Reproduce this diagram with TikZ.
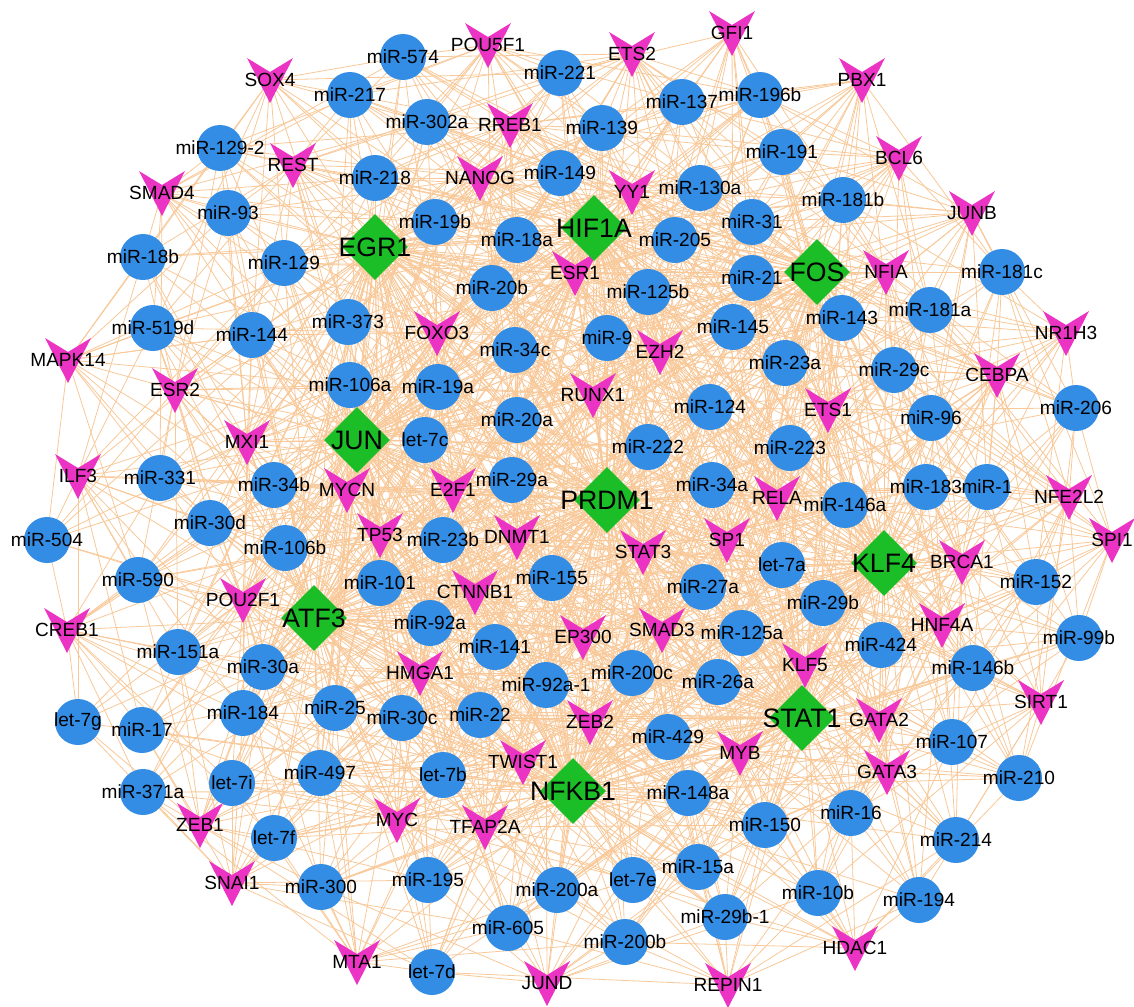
\documentclass[tikz,border=0pt]{standalone}
\usepackage{fontspec}
\setmainfont{Liberation Sans}
\usepackage{xcolor}
\usepackage{tikz}
\usetikzlibrary{shapes.geometric,backgrounds}
\definecolor{mirblue}{RGB}{51,141,229}
\definecolor{tfpink}{RGB}{236,52,196}
\definecolor{hubgreen}{RGB}{27,190,38}
\definecolor{edgepeach}{RGB}{248,200,152}

\def\hubs{EGR1/375/247, HIF1A/594/228, FOS/817/272, JUN/357/440, PRDM1/607/500,
  KLF4/884/563, ATF3/314/618, STAT1/802/718, NFKB1/573/791}
\def\tfs{SOX4/270/80, REST/293/165, SMAD4/162/193, POU5F1/488/45, RREB1/510/125,
  NANOG/480/178, FOXO3/437/333, ESR1/575/273, ETS2/632/54, GFI1/732/33,
  YY1/632/192, PBX1/862/80, BCL6/899/158, JUNB/972/213, NFIA/886/272,
  NR1H3/1066/333, MAPK14/68/360, ESR2/175/390, MXI1/247/442, ILF3/78/476,
  POU2F1/243/600, CREB1/67/630, MYCN/347/490, E2F1/453/490, TP53/380/535,
  DNMT1/517/537, CTNNB1/475/592, HMGA1/420/673, EP300/583/637, EZH2/660/352,
  RUNX1/593/395, ETS1/828/410, RELA/777/498, SP1/727/540, STAT3/643/552,
  SMAD3/662/630, KLF5/805/665, CEBPA/997/375, NFE2L2/1069/497, SPI1/1112/540,
  BRCA1/962/562, HNF4A/942/625, ZEB1/200/825, SNAI1/232/883, TWIST1/523/762,
  MYC/397/820, TFAP2A/485/827, MTA1/357/962, JUND/547/983, ZEB2/590/722,
  MYB/740/753, REPIN1/728/985, HDAC1/855/948, SIRT1/1041/702, GATA2/879/720,
  GATA3/887/772}
\def\mirs{miR-129-2/220/148, miR-93/228/213, miR-18b/143/257, miR-129/284/263,
  miR-519d/153/328, miR-144/252/335, miR-574/403/57, miR-217/350/95,
  miR-302a/427/122, miR-221/560/73, miR-218/375/178, miR-149/560/173,
  miR-19b/435/222, miR-18a/517/240, miR-20b/492/288, miR-373/348/322,
  miR-137/682/102, miR-196b/760/95, miR-139/602/128, miR-191/782/152,
  miR-130a/700/188, miR-31/752/222, miR-205/675/240, miR-21/752/278,
  miR-125b/648/292, miR-9/607/338, miR-145/733/327, miR-181b/843/200,
  miR-181c/1002/272, miR-181a/930/310, miR-143/842/318, miR-331/160/478,
  miR-34b/274/485, miR-30d/210/523, miR-504/47/540, miR-106b/285/548,
  miR-590/138/580, miR-151a/178/652, miR-30a/263/667, miR-34c/515/350,
  miR-106a/350/385, miR-19a/438/387, miR-20a/517/420, let-7c/425/440,
  miR-29a/512/480, miR-23b/443/540, miR-101/380/583, miR-155/552/578,
  miR-92a/430/623, miR-141/495/647, miR-124/710/407, miR-23a/785/363,
  miR-222/648/447, miR-223/790/448, miR-34a/712/485, miR-146a/845/505,
  let-7a/782/565, miR-27a/703/587, miR-29b/823/603, miR-125a/742/633,
  miR-200c/632/673, miR-92a-1/546/685, miR-26a/718/682, miR-29c/894/370,
  miR-206/1076/408, miR-96/931/418, miR-183/926/487, miR-1/987/487,
  miR-152/1036/582, miR-99b/1079/638, miR-424/881/645, miR-146b/973/668,
  let-7g/78/722, miR-17/142/730, miR-184/243/713, miR-371a/143/792,
  let-7i/232/783, let-7f/274/838, miR-300/321/887, miR-25/335/708,
  miR-30c/402/718, miR-22/480/715, miR-497/320/773, let-7b/443/775,
  miR-195/428/880, miR-605/508/928, let-7d/432/972, miR-200a/557/890,
  miR-429/668/737, miR-148a/688/793, miR-150/765/825, miR-16/851/813,
  miR-15a/698/867, let-7e/633/880, miR-10b/818/893, miR-29b-1/725/917,
  miR-200b/625/942, miR-107/952/742, miR-210/1019/778, miR-214/956/840,
  miR-194/919/900}

\begin{document}
\begin{tikzpicture}[x=0.75pt, y=-0.75pt,
    txt/.style={font=\fontsize{14.3}{16}\selectfont, inner sep=0pt},
    bigtxt/.style={font=\fontsize{20}{22}\selectfont, inner sep=0pt},
    mir/.style={circle, fill=mirblue, minimum size=34.5pt, inner sep=0pt},
    hub/.style={diamond, fill=hubgreen, minimum width=49.5pt, minimum height=49.5pt, inner sep=0pt},
    tf/.style={txt},
    tfmark/.pic={\fill[tfpink] (-23,-22) -- (0,-8) -- (23,-22) -- (0,23) -- cycle;},
    link/.style={draw=edgepeach, line width=0.6pt}]
  \useasboundingbox (0,0) rectangle (1134,1006);
  \foreach \t/\x/\y in \mirs
    \node[mir, label={[txt]center:\t}] (\t) at (\x,\y) {};
  \foreach \t/\x/\y in \tfs {
    \pic at (\x,\y) {tfmark};
    \node[tf] (\t) at (\x,\y) {\t};}
  \foreach \t/\x/\y in \hubs
    \node[hub, label={[bigtxt]center:\t}] (\t) at (\x,\y) {};
  \begin{pgfonlayer}{background}
    \foreach \h/\hx/\hy in \hubs {
      \foreach \m/\mx/\my in \mirs {
        \pgfmathtruncatemacro\isnear{veclen(\mx-\hx,\my-\hy)<560}
        \ifnum\isnear=1 \draw[link] (\h.center) -- (\m.center); \fi}
      \foreach \f/\fx/\fy in \tfs {
        \pgfmathtruncatemacro\isnear{veclen(\fx-\hx,\fy-\hy)<350}
        \ifnum\isnear=1 \draw[link] (\h.center) -- (\f.center); \fi}}
    \foreach \f/\fx/\fy in \tfs
      \foreach \m/\mx/\my in \mirs {
        \pgfmathtruncatemacro\isnear{veclen(\mx-\fx,\my-\fy)<300}
        \ifnum\isnear=1 \draw[link] (\f.center) -- (\m.center); \fi}
  \end{pgfonlayer}
\end{tikzpicture}
\end{document}
